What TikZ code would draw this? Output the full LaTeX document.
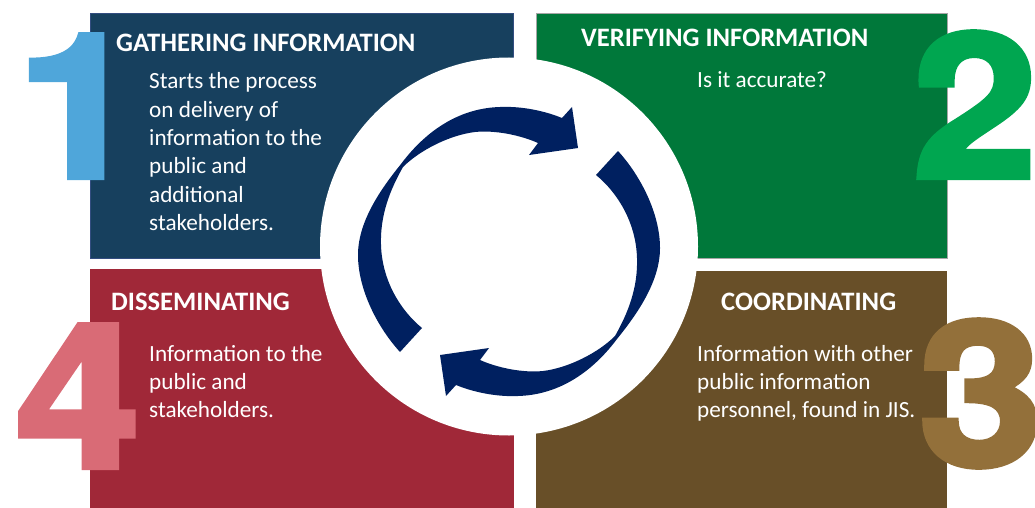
\documentclass[tikz,border=0pt]{standalone}
\usepackage{fontspec}
\setmainfont{Carlito}
\newfontfamily\digitfont{TeX Gyre Heros}[BoldFeatures={FakeBold=3,FakeStretch=1.12}]
\definecolor{cA}{HTML}{17405E}
\definecolor{cB}{HTML}{00783A}
\definecolor{cC}{HTML}{684F28}
\definecolor{cD}{HTML}{A02838}
\definecolor{dA}{HTML}{4FA6DA}
\definecolor{dB}{HTML}{00A650}
\definecolor{dC}{HTML}{93703A}
\definecolor{dD}{HTML}{D96B76}
\definecolor{navy}{HTML}{002060}
\newcommand\linesblock[1]{\begin{tabular}[t]{@{}l@{}}#1\end{tabular}}
\tikzset{
  boxst/.style={inner sep=0pt, outer sep=0pt, anchor=north west},
  headst/.style={text=white, font=\fontsize{26.6pt}{30pt}\selectfont\bfseries, anchor=base west, inner sep=0pt},
  bodyst/.style={text=white, font=\fontsize{23.2pt}{28.3pt}\selectfont, anchor=base west, inner sep=0pt},
  digitst/.style={font=\digitfont\fontsize{200pt}{200pt}\selectfont\bfseries, anchor=base, inner sep=0pt},
  cyclest/.style={fill=navy},
}
\begin{document}
\begin{tikzpicture}[x=1pt,y=-1pt]
\useasboundingbox (0,0) rectangle (1035,508);
% boxes
\node[boxst, fill=cA, draw=navy!80, line width=0.8pt, minimum width=423pt, minimum height=245pt] (box1) at (90,13) {};
\node[boxst, fill=cB, draw=gray!70, line width=0.6pt, minimum width=411pt, minimum height=245pt] (box2) at (536,13) {};
\node[boxst, fill=cD, minimum width=424pt, minimum height=241pt] (box4) at (90,269) {};
\node[boxst, fill=cC, minimum width=411pt, minimum height=239pt] (box3) at (536,271) {};
% digits
\node[digitst, text=dA] (n1) at (79,177) {1};
\node[digitst, text=dB] (n2) at (975,177) {2};
\node[digitst, text=dC] (n3) at (981,465) {3};
\node[digitst, text=dD] (n4) at (78,467) {4};
% hub
\node[circle, fill=white, minimum size=378pt, inner sep=0pt] (hub) at (509,246.5) {};
% cycle arrows
\foreach \ang in {0,180}{
\begin{scope}[rotate around={\ang:(509,251.5)}]
\fill[cyclest] (400,352) .. controls (378,328) and (358,290) .. (358,255)
 .. controls (358,222) and (380,190) .. (401,164)
 .. controls (428,128) and (462,108) .. (500,107)
 .. controls (522,106) and (545,111) .. (562,118)
 -- (572,107) -- (578,148) -- (529,155) -- (538,143)
 .. controls (520,135) and (495,130) .. (475,132)
 .. controls (450,135) and (420,150) .. (403,167)
 .. controls (390,190) and (380,215) .. (381,245)
 .. controls (382,280) and (400,310) .. (422,328)
 -- cycle;
\end{scope}
}
% texts
\node[headst] (h1) at (116,52) {GATHERING INFORMATION};
\node[bodyst] (t1) at (149,89) {\linesblock{Starts the process\\on delivery of\\information to the\\public and\\additional\\stakeholders.}};
\node[headst] (h2) at (581,47) {VERIFYING INFORMATION};
\node[bodyst] (t2) at (697,88) {Is it accurate?};
\node[headst] (h4) at (111,310) {DISSEMINATING};
\node[bodyst] (t4) at (149,361) {\linesblock{Information to the\\public and\\stakeholders.}};
\node[headst] (h3) at (721,310) {COORDINATING};
\node[bodyst] (t3) at (697,361) {\linesblock{Information with other\\public information\\personnel, found in JIS.}};
\end{tikzpicture}
\end{document}
